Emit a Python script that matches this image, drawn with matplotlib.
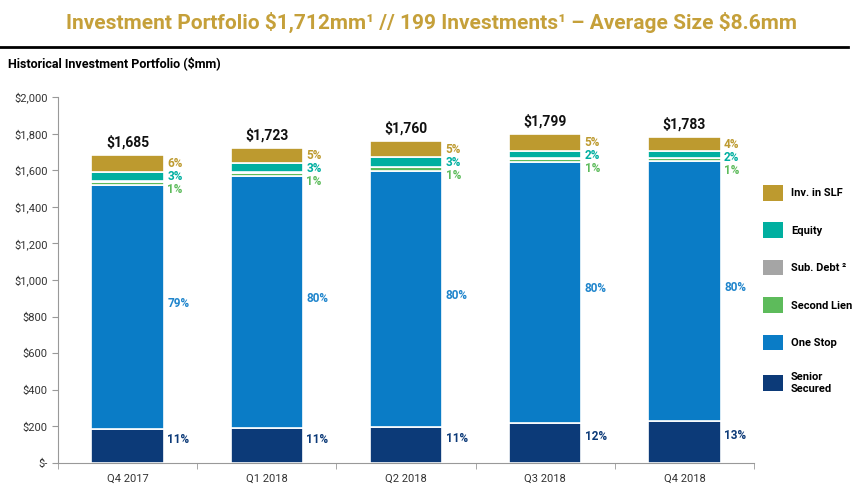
import matplotlib.pyplot as plt
from matplotlib.patches import Patch
from matplotlib.lines import Line2D
import numpy as np

quarters = ["Q4 2017", "Q1 2018", "Q2 2018", "Q3 2018", "Q4 2018"]
totals = [1685, 1723, 1760, 1799, 1783]

# $mm by segment
senior_secured = [186, 190, 194, 216, 230]
one_stop = [1331, 1378, 1403, 1430, 1420]
second_lien = [17, 17, 18, 17, 14]
sub_debt = [5, 4, 3, 3, 3]
equity = [50, 48, 52, 40, 36]
inv_slf = [96, 86, 90, 93, 80]

pct_senior = ["11%", "11%", "11%", "12%", "13%"]
pct_one_stop = ["79%", "80%", "80%", "80%", "80%"]
pct_second = ["1%", "1%", "1%", "1%", "1%"]
pct_equity = ["3%", "3%", "3%", "2%", "2%"]
pct_slf = ["6%", "5%", "5%", "5%", "4%"]

yticks = [0, 200, 400, 600, 800, 1000, 1200, 1400, 1600, 1800, 2000]
ytick_labels = ["$-", "$200", "$400", "$600", "$800", "$1,000", "$1,200",
                "$1,400", "$1,600", "$1,800", "$2,000"]

plt.rcParams['font.family'] = ['Roboto', 'DejaVu Sans']
plt.rcParams['text.parse_math'] = False

c_slf = "#BD9A2F"
c_eq = "#00AFA0"
c_sub = "#A5A5A5"
c_2nd = "#5DBB5B"
c_one = "#0A7CC6"
c_sen = "#0C3A78"

fig = plt.figure(figsize=(8.63, 4.94), dpi=100)
ax = fig.add_axes([58 / 863, 1 - 463 / 494, (754 - 58) / 863, 366 / 494])

x = np.arange(len(quarters))
w = 0.52
segments = [(senior_secured, c_sen), (one_stop, c_one), (second_lien, c_2nd),
            (sub_debt, c_sub), (equity, c_eq), (inv_slf, c_slf)]
bottom = np.zeros(len(quarters))
bottoms = []
for vals, col in segments:
    ax.bar(x, vals, w, bottom=bottom, color=col, edgecolor="white", linewidth=1.2)
    bottoms.append(bottom.copy())
    bottom = bottom + np.array(vals)

tx = x + w / 2 + 0.025
for i in range(len(quarters)):
    ax.text(x[i], totals[i] + 30, "$" + format(totals[i], ","), ha="center", va="bottom",
            fontsize=10, fontweight="bold", color="#111111")
    ax.text(tx[i], bottoms[0][i] + senior_secured[i] / 2 + 35, pct_senior[i], va="center",
            fontsize=8.5, fontweight="bold", color=c_sen)
    ax.text(tx[i], bottoms[1][i] + one_stop[i] / 2 + 20, pct_one_stop[i], va="center",
            fontsize=8.5, fontweight="bold", color="#1F85CC")
    y_slf = bottoms[5][i] + inv_slf[i] / 2
    ax.text(tx[i], y_slf, pct_slf[i], va="center", fontsize=8.5, fontweight="bold", color=c_slf)
    ax.text(tx[i], y_slf - 72, pct_equity[i], va="center", fontsize=8.5, fontweight="bold", color=c_eq)
    ax.text(tx[i], y_slf - 144, pct_second[i], va="center", fontsize=8.5, fontweight="bold", color=c_2nd)

ax.set_xlim(-0.5, len(quarters) - 0.5)
ax.set_ylim(0, 2000)
ax.set_yticks(yticks)
ax.set_yticklabels(ytick_labels)
ax.set_xticks(x)
ax.set_xticklabels(quarters)
ax.set_xticks(np.arange(-0.5, len(quarters), 1), minor=True)
ax.tick_params(axis="x", which="major", length=0, pad=8, labelsize=8, colors="#333333")
ax.tick_params(axis="x", which="minor", length=4, color="#999999")
ax.tick_params(axis="y", length=4, color="#999999", labelsize=8, labelcolor="#333333")
for s in ["top", "right"]:
    ax.spines[s].set_visible(False)
for s in ["left", "bottom"]:
    ax.spines[s].set_color("#999999")

handles = [Patch(facecolor=c_slf), Patch(facecolor=c_eq), Patch(facecolor=c_sub),
           Patch(facecolor=c_2nd), Patch(facecolor=c_one), Patch(facecolor=c_sen)]
labels = ["Inv. in SLF", "Equity", "Sub. Debt \u00b2", "Second Lien", "One Stop", "Senior\nSecured"]
leg = fig.legend(handles, labels, loc="upper left", bbox_to_anchor=(753 / 863, 1 - 175 / 494),
                 frameon=False, handlelength=1.8, handleheight=1.8, labelspacing=1.95,
                 handletextpad=0.7, prop={"size": 8, "weight": "bold"})

fig.text(0.5, 1 - 22 / 494, "Investment Portfolio $1,712mm\u00b9 // 199 Investments\u00b9 \u2013 Average Size $8.6mm",
         ha="center", va="center", fontsize=15, fontweight="bold", color="#C5A03A")
fig.add_artist(Line2D([0, 848 / 863], [1 - 47 / 494, 1 - 47 / 494], color="black", linewidth=2))
fig.text(8 / 863, 1 - 63 / 494, "Historical Investment Portfolio ($mm)", ha="left", va="center",
         fontsize=9, fontweight="bold", color="black")

fig.savefig("out.png", dpi=100)
